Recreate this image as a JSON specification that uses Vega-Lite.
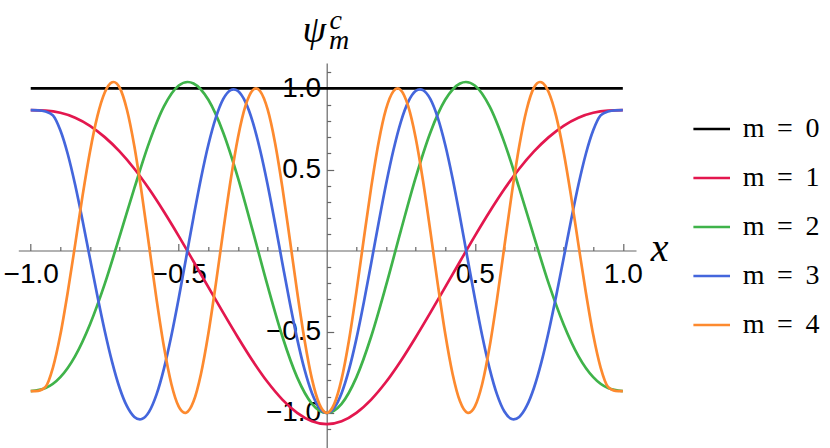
{
  "$schema": "https://vega.github.io/schema/vega-lite/v6.json",
  "width": 617.7,
  "height": 385,
  "autosize": {"type": "none"},
  "padding": {"left": 18.3, "top": 63, "right": 194, "bottom": 0},
  "background": "white",
  "config": {
    "view": {"stroke": null},
    "axis": {"grid": false, "domainColor": "#666666", "tickColor": "#666666", "domainWidth": 1.2, "tickWidth": 1.2, "labelColor": "black", "labelFont": "Liberation Sans", "labelFontSize": 28, "titleColor": "black"},
    "legend": {"labelFont": "Liberation Serif, Times New Roman, serif", "labelFontSize": 28, "labelColor": "black"}
  },
  "data": {"values": [
    {"m": "m \u2009=\u2009 0", "x": -1, "y": 1}, {"m": "m \u2009=\u2009 0", "x": 1, "y": 1},

    {"m": "m \u2009=\u2009 1", "x": -1, "y": 0.866}, {"m": "m \u2009=\u2009 1", "x": -0.95, "y": 0.863}, {"m": "m \u2009=\u2009 1", "x": -0.9, "y": 0.85}, {"m": "m \u2009=\u2009 1", "x": -0.85, "y": 0.82}, {"m": "m \u2009=\u2009 1", "x": -0.8, "y": 0.77}, {"m": "m \u2009=\u2009 1", "x": -0.75, "y": 0.7}, {"m": "m \u2009=\u2009 1", "x": -0.7, "y": 0.612}, {"m": "m \u2009=\u2009 1", "x": -0.65, "y": 0.505}, {"m": "m \u2009=\u2009 1", "x": -0.6, "y": 0.38}, {"m": "m \u2009=\u2009 1", "x": -0.55, "y": 0.24}, {"m": "m \u2009=\u2009 1", "x": -0.5, "y": 0.09}, {"m": "m \u2009=\u2009 1", "x": -0.45, "y": -0.067}, {"m": "m \u2009=\u2009 1", "x": -0.4, "y": -0.225}, {"m": "m \u2009=\u2009 1", "x": -0.35, "y": -0.382}, {"m": "m \u2009=\u2009 1", "x": -0.3, "y": -0.535}, {"m": "m \u2009=\u2009 1", "x": -0.25, "y": -0.68}, {"m": "m \u2009=\u2009 1", "x": -0.2, "y": -0.81}, {"m": "m \u2009=\u2009 1", "x": -0.15, "y": -0.918}, {"m": "m \u2009=\u2009 1", "x": -0.1, "y": -1.0}, {"m": "m \u2009=\u2009 1", "x": -0.05, "y": -1.052}, {"m": "m \u2009=\u2009 1", "x": 0, "y": -1.07}, {"m": "m \u2009=\u2009 1", "x": 0.05, "y": -1.052}, {"m": "m \u2009=\u2009 1", "x": 0.1, "y": -1.0}, {"m": "m \u2009=\u2009 1", "x": 0.15, "y": -0.918}, {"m": "m \u2009=\u2009 1", "x": 0.2, "y": -0.81}, {"m": "m \u2009=\u2009 1", "x": 0.25, "y": -0.68}, {"m": "m \u2009=\u2009 1", "x": 0.3, "y": -0.535}, {"m": "m \u2009=\u2009 1", "x": 0.35, "y": -0.382}, {"m": "m \u2009=\u2009 1", "x": 0.4, "y": -0.225}, {"m": "m \u2009=\u2009 1", "x": 0.45, "y": -0.067}, {"m": "m \u2009=\u2009 1", "x": 0.5, "y": 0.09}, {"m": "m \u2009=\u2009 1", "x": 0.55, "y": 0.24}, {"m": "m \u2009=\u2009 1", "x": 0.6, "y": 0.38}, {"m": "m \u2009=\u2009 1", "x": 0.65, "y": 0.505}, {"m": "m \u2009=\u2009 1", "x": 0.7, "y": 0.612}, {"m": "m \u2009=\u2009 1", "x": 0.75, "y": 0.7}, {"m": "m \u2009=\u2009 1", "x": 0.8, "y": 0.77}, {"m": "m \u2009=\u2009 1", "x": 0.85, "y": 0.82}, {"m": "m \u2009=\u2009 1", "x": 0.9, "y": 0.85}, {"m": "m \u2009=\u2009 1", "x": 0.95, "y": 0.863}, {"m": "m \u2009=\u2009 1", "x": 1, "y": 0.866},

    {"m": "m \u2009=\u2009 2", "x": -1, "y": -0.866}, {"m": "m \u2009=\u2009 2", "x": -0.95, "y": -0.847}, {"m": "m \u2009=\u2009 2", "x": -0.9, "y": -0.78}, {"m": "m \u2009=\u2009 2", "x": -0.85, "y": -0.65}, {"m": "m \u2009=\u2009 2", "x": -0.8, "y": -0.455}, {"m": "m \u2009=\u2009 2", "x": -0.75, "y": -0.205}, {"m": "m \u2009=\u2009 2", "x": -0.7, "y": 0.087}, {"m": "m \u2009=\u2009 2", "x": -0.65, "y": 0.385}, {"m": "m \u2009=\u2009 2", "x": -0.6, "y": 0.666}, {"m": "m \u2009=\u2009 2", "x": -0.55, "y": 0.889}, {"m": "m \u2009=\u2009 2", "x": -0.5, "y": 1.018}, {"m": "m \u2009=\u2009 2", "x": -0.47, "y": 1.04}, {"m": "m \u2009=\u2009 2", "x": -0.45, "y": 1.031}, {"m": "m \u2009=\u2009 2", "x": -0.4, "y": 0.93}, {"m": "m \u2009=\u2009 2", "x": -0.35, "y": 0.729}, {"m": "m \u2009=\u2009 2", "x": -0.3, "y": 0.449}, {"m": "m \u2009=\u2009 2", "x": -0.25, "y": 0.122}, {"m": "m \u2009=\u2009 2", "x": -0.2, "y": -0.216}, {"m": "m \u2009=\u2009 2", "x": -0.15, "y": -0.529}, {"m": "m \u2009=\u2009 2", "x": -0.1, "y": -0.781}, {"m": "m \u2009=\u2009 2", "x": -0.05, "y": -0.944}, {"m": "m \u2009=\u2009 2", "x": 0, "y": -1.0}, {"m": "m \u2009=\u2009 2", "x": 0.05, "y": -0.944}, {"m": "m \u2009=\u2009 2", "x": 0.1, "y": -0.781}, {"m": "m \u2009=\u2009 2", "x": 0.15, "y": -0.529}, {"m": "m \u2009=\u2009 2", "x": 0.2, "y": -0.216}, {"m": "m \u2009=\u2009 2", "x": 0.25, "y": 0.122}, {"m": "m \u2009=\u2009 2", "x": 0.3, "y": 0.449}, {"m": "m \u2009=\u2009 2", "x": 0.35, "y": 0.729}, {"m": "m \u2009=\u2009 2", "x": 0.4, "y": 0.93}, {"m": "m \u2009=\u2009 2", "x": 0.45, "y": 1.031}, {"m": "m \u2009=\u2009 2", "x": 0.47, "y": 1.04}, {"m": "m \u2009=\u2009 2", "x": 0.5, "y": 1.018}, {"m": "m \u2009=\u2009 2", "x": 0.55, "y": 0.889}, {"m": "m \u2009=\u2009 2", "x": 0.6, "y": 0.666}, {"m": "m \u2009=\u2009 2", "x": 0.65, "y": 0.385}, {"m": "m \u2009=\u2009 2", "x": 0.7, "y": 0.087}, {"m": "m \u2009=\u2009 2", "x": 0.75, "y": -0.205}, {"m": "m \u2009=\u2009 2", "x": 0.8, "y": -0.455}, {"m": "m \u2009=\u2009 2", "x": 0.85, "y": -0.65}, {"m": "m \u2009=\u2009 2", "x": 0.9, "y": -0.78}, {"m": "m \u2009=\u2009 2", "x": 0.95, "y": -0.847}, {"m": "m \u2009=\u2009 2", "x": 1, "y": -0.866},

    {"m": "m \u2009=\u2009 3", "x": -1, "y": 0.866}, {"m": "m \u2009=\u2009 3", "x": -0.975, "y": 0.865}, {"m": "m \u2009=\u2009 3", "x": -0.95, "y": 0.858}, {"m": "m \u2009=\u2009 3", "x": -0.925, "y": 0.834}, {"m": "m \u2009=\u2009 3", "x": -0.9, "y": 0.742}, {"m": "m \u2009=\u2009 3", "x": -0.875, "y": 0.596}, {"m": "m \u2009=\u2009 3", "x": -0.85, "y": 0.406}, {"m": "m \u2009=\u2009 3", "x": -0.825, "y": 0.186}, {"m": "m \u2009=\u2009 3", "x": -0.8, "y": -0.047}, {"m": "m \u2009=\u2009 3", "x": -0.775, "y": -0.278}, {"m": "m \u2009=\u2009 3", "x": -0.75, "y": -0.495}, {"m": "m \u2009=\u2009 3", "x": -0.725, "y": -0.687}, {"m": "m \u2009=\u2009 3", "x": -0.7, "y": -0.845}, {"m": "m \u2009=\u2009 3", "x": -0.675, "y": -0.959}, {"m": "m \u2009=\u2009 3", "x": -0.65, "y": -1.025}, {"m": "m \u2009=\u2009 3", "x": -0.631, "y": -1.04}, {"m": "m \u2009=\u2009 3", "x": -0.625, "y": -1.038}, {"m": "m \u2009=\u2009 3", "x": -0.6, "y": -0.992}, {"m": "m \u2009=\u2009 3", "x": -0.575, "y": -0.886}, {"m": "m \u2009=\u2009 3", "x": -0.55, "y": -0.727}, {"m": "m \u2009=\u2009 3", "x": -0.525, "y": -0.525}, {"m": "m \u2009=\u2009 3", "x": -0.5, "y": -0.292}, {"m": "m \u2009=\u2009 3", "x": -0.475, "y": -0.043}, {"m": "m \u2009=\u2009 3", "x": -0.45, "y": 0.208}, {"m": "m \u2009=\u2009 3", "x": -0.425, "y": 0.445}, {"m": "m \u2009=\u2009 3", "x": -0.4, "y": 0.653}, {"m": "m \u2009=\u2009 3", "x": -0.375, "y": 0.819}, {"m": "m \u2009=\u2009 3", "x": -0.35, "y": 0.934}, {"m": "m \u2009=\u2009 3", "x": -0.325, "y": 0.99}, {"m": "m \u2009=\u2009 3", "x": -0.315, "y": 0.995}, {"m": "m \u2009=\u2009 3", "x": -0.3, "y": 0.984}, {"m": "m \u2009=\u2009 3", "x": -0.275, "y": 0.917}, {"m": "m \u2009=\u2009 3", "x": -0.25, "y": 0.793}, {"m": "m \u2009=\u2009 3", "x": -0.225, "y": 0.619}, {"m": "m \u2009=\u2009 3", "x": -0.2, "y": 0.408}, {"m": "m \u2009=\u2009 3", "x": -0.175, "y": 0.171}, {"m": "m \u2009=\u2009 3", "x": -0.15, "y": -0.077}, {"m": "m \u2009=\u2009 3", "x": -0.125, "y": -0.32}, {"m": "m \u2009=\u2009 3", "x": -0.1, "y": -0.544}, {"m": "m \u2009=\u2009 3", "x": -0.075, "y": -0.734}, {"m": "m \u2009=\u2009 3", "x": -0.05, "y": -0.879}, {"m": "m \u2009=\u2009 3", "x": -0.025, "y": -0.969}, {"m": "m \u2009=\u2009 3", "x": 0, "y": -1.0}, {"m": "m \u2009=\u2009 3", "x": 0.025, "y": -0.969}, {"m": "m \u2009=\u2009 3", "x": 0.05, "y": -0.879}, {"m": "m \u2009=\u2009 3", "x": 0.075, "y": -0.734}, {"m": "m \u2009=\u2009 3", "x": 0.1, "y": -0.544}, {"m": "m \u2009=\u2009 3", "x": 0.125, "y": -0.32}, {"m": "m \u2009=\u2009 3", "x": 0.15, "y": -0.077}, {"m": "m \u2009=\u2009 3", "x": 0.175, "y": 0.171}, {"m": "m \u2009=\u2009 3", "x": 0.2, "y": 0.408}, {"m": "m \u2009=\u2009 3", "x": 0.225, "y": 0.619}, {"m": "m \u2009=\u2009 3", "x": 0.25, "y": 0.793}, {"m": "m \u2009=\u2009 3", "x": 0.275, "y": 0.917}, {"m": "m \u2009=\u2009 3", "x": 0.3, "y": 0.984}, {"m": "m \u2009=\u2009 3", "x": 0.315, "y": 0.995}, {"m": "m \u2009=\u2009 3", "x": 0.325, "y": 0.99}, {"m": "m \u2009=\u2009 3", "x": 0.35, "y": 0.934}, {"m": "m \u2009=\u2009 3", "x": 0.375, "y": 0.819}, {"m": "m \u2009=\u2009 3", "x": 0.4, "y": 0.653}, {"m": "m \u2009=\u2009 3", "x": 0.425, "y": 0.445}, {"m": "m \u2009=\u2009 3", "x": 0.45, "y": 0.208}, {"m": "m \u2009=\u2009 3", "x": 0.475, "y": -0.043}, {"m": "m \u2009=\u2009 3", "x": 0.5, "y": -0.292}, {"m": "m \u2009=\u2009 3", "x": 0.525, "y": -0.525}, {"m": "m \u2009=\u2009 3", "x": 0.55, "y": -0.727}, {"m": "m \u2009=\u2009 3", "x": 0.575, "y": -0.886}, {"m": "m \u2009=\u2009 3", "x": 0.6, "y": -0.992}, {"m": "m \u2009=\u2009 3", "x": 0.625, "y": -1.038}, {"m": "m \u2009=\u2009 3", "x": 0.631, "y": -1.04}, {"m": "m \u2009=\u2009 3", "x": 0.65, "y": -1.025}, {"m": "m \u2009=\u2009 3", "x": 0.675, "y": -0.959}, {"m": "m \u2009=\u2009 3", "x": 0.7, "y": -0.845}, {"m": "m \u2009=\u2009 3", "x": 0.725, "y": -0.687}, {"m": "m \u2009=\u2009 3", "x": 0.75, "y": -0.495}, {"m": "m \u2009=\u2009 3", "x": 0.775, "y": -0.278}, {"m": "m \u2009=\u2009 3", "x": 0.8, "y": -0.047}, {"m": "m \u2009=\u2009 3", "x": 0.825, "y": 0.186}, {"m": "m \u2009=\u2009 3", "x": 0.85, "y": 0.406}, {"m": "m \u2009=\u2009 3", "x": 0.875, "y": 0.596}, {"m": "m \u2009=\u2009 3", "x": 0.9, "y": 0.742}, {"m": "m \u2009=\u2009 3", "x": 0.925, "y": 0.834}, {"m": "m \u2009=\u2009 3", "x": 0.95, "y": 0.858}, {"m": "m \u2009=\u2009 3", "x": 0.975, "y": 0.865}, {"m": "m \u2009=\u2009 3", "x": 1, "y": 0.866},

    {"m": "m \u2009=\u2009 4", "x": -1, "y": -0.866}, {"m": "m \u2009=\u2009 4", "x": -0.975, "y": -0.864}, {"m": "m \u2009=\u2009 4", "x": -0.95, "y": -0.84}, {"m": "m \u2009=\u2009 4", "x": -0.925, "y": -0.721}, {"m": "m \u2009=\u2009 4", "x": -0.9, "y": -0.519}, {"m": "m \u2009=\u2009 4", "x": -0.875, "y": -0.256}, {"m": "m \u2009=\u2009 4", "x": -0.85, "y": 0.037}, {"m": "m \u2009=\u2009 4", "x": -0.825, "y": 0.338}, {"m": "m \u2009=\u2009 4", "x": -0.8, "y": 0.609}, {"m": "m \u2009=\u2009 4", "x": -0.775, "y": 0.828}, {"m": "m \u2009=\u2009 4", "x": -0.75, "y": 0.975}, {"m": "m \u2009=\u2009 4", "x": -0.725, "y": 1.038}, {"m": "m \u2009=\u2009 4", "x": -0.72, "y": 1.04}, {"m": "m \u2009=\u2009 4", "x": -0.7, "y": 1.006}, {"m": "m \u2009=\u2009 4", "x": -0.675, "y": 0.869}, {"m": "m \u2009=\u2009 4", "x": -0.65, "y": 0.644}, {"m": "m \u2009=\u2009 4", "x": -0.625, "y": 0.353}, {"m": "m \u2009=\u2009 4", "x": -0.6, "y": 0.027}, {"m": "m \u2009=\u2009 4", "x": -0.575, "y": -0.3}, {"m": "m \u2009=\u2009 4", "x": -0.55, "y": -0.593}, {"m": "m \u2009=\u2009 4", "x": -0.525, "y": -0.822}, {"m": "m \u2009=\u2009 4", "x": -0.5, "y": -0.962}, {"m": "m \u2009=\u2009 4", "x": -0.479, "y": -1.0}, {"m": "m \u2009=\u2009 4", "x": -0.475, "y": -0.999}, {"m": "m \u2009=\u2009 4", "x": -0.45, "y": -0.929}, {"m": "m \u2009=\u2009 4", "x": -0.425, "y": -0.76}, {"m": "m \u2009=\u2009 4", "x": -0.4, "y": -0.511}, {"m": "m \u2009=\u2009 4", "x": -0.375, "y": -0.208}, {"m": "m \u2009=\u2009 4", "x": -0.35, "y": 0.118}, {"m": "m \u2009=\u2009 4", "x": -0.325, "y": 0.431}, {"m": "m \u2009=\u2009 4", "x": -0.3, "y": 0.698}, {"m": "m \u2009=\u2009 4", "x": -0.275, "y": 0.891}, {"m": "m \u2009=\u2009 4", "x": -0.25, "y": 0.99}, {"m": "m \u2009=\u2009 4", "x": -0.239, "y": 1.0}, {"m": "m \u2009=\u2009 4", "x": -0.225, "y": 0.983}, {"m": "m \u2009=\u2009 4", "x": -0.2, "y": 0.872}, {"m": "m \u2009=\u2009 4", "x": -0.175, "y": 0.667}, {"m": "m \u2009=\u2009 4", "x": -0.15, "y": 0.39}, {"m": "m \u2009=\u2009 4", "x": -0.125, "y": 0.072}, {"m": "m \u2009=\u2009 4", "x": -0.1, "y": -0.254}, {"m": "m \u2009=\u2009 4", "x": -0.075, "y": -0.552}, {"m": "m \u2009=\u2009 4", "x": -0.05, "y": -0.792}, {"m": "m \u2009=\u2009 4", "x": -0.025, "y": -0.946}, {"m": "m \u2009=\u2009 4", "x": 0, "y": -1.0}, {"m": "m \u2009=\u2009 4", "x": 0.025, "y": -0.946}, {"m": "m \u2009=\u2009 4", "x": 0.05, "y": -0.792}, {"m": "m \u2009=\u2009 4", "x": 0.075, "y": -0.552}, {"m": "m \u2009=\u2009 4", "x": 0.1, "y": -0.254}, {"m": "m \u2009=\u2009 4", "x": 0.125, "y": 0.072}, {"m": "m \u2009=\u2009 4", "x": 0.15, "y": 0.39}, {"m": "m \u2009=\u2009 4", "x": 0.175, "y": 0.667}, {"m": "m \u2009=\u2009 4", "x": 0.2, "y": 0.872}, {"m": "m \u2009=\u2009 4", "x": 0.225, "y": 0.983}, {"m": "m \u2009=\u2009 4", "x": 0.239, "y": 1.0}, {"m": "m \u2009=\u2009 4", "x": 0.25, "y": 0.99}, {"m": "m \u2009=\u2009 4", "x": 0.275, "y": 0.891}, {"m": "m \u2009=\u2009 4", "x": 0.3, "y": 0.698}, {"m": "m \u2009=\u2009 4", "x": 0.325, "y": 0.431}, {"m": "m \u2009=\u2009 4", "x": 0.35, "y": 0.118}, {"m": "m \u2009=\u2009 4", "x": 0.375, "y": -0.208}, {"m": "m \u2009=\u2009 4", "x": 0.4, "y": -0.511}, {"m": "m \u2009=\u2009 4", "x": 0.425, "y": -0.76}, {"m": "m \u2009=\u2009 4", "x": 0.45, "y": -0.929}, {"m": "m \u2009=\u2009 4", "x": 0.475, "y": -0.999}, {"m": "m \u2009=\u2009 4", "x": 0.479, "y": -1.0}, {"m": "m \u2009=\u2009 4", "x": 0.5, "y": -0.962}, {"m": "m \u2009=\u2009 4", "x": 0.525, "y": -0.822}, {"m": "m \u2009=\u2009 4", "x": 0.55, "y": -0.593}, {"m": "m \u2009=\u2009 4", "x": 0.575, "y": -0.3}, {"m": "m \u2009=\u2009 4", "x": 0.6, "y": 0.027}, {"m": "m \u2009=\u2009 4", "x": 0.625, "y": 0.353}, {"m": "m \u2009=\u2009 4", "x": 0.65, "y": 0.644}, {"m": "m \u2009=\u2009 4", "x": 0.675, "y": 0.869}, {"m": "m \u2009=\u2009 4", "x": 0.7, "y": 1.006}, {"m": "m \u2009=\u2009 4", "x": 0.72, "y": 1.04}, {"m": "m \u2009=\u2009 4", "x": 0.725, "y": 1.038}, {"m": "m \u2009=\u2009 4", "x": 0.75, "y": 0.975}, {"m": "m \u2009=\u2009 4", "x": 0.775, "y": 0.828}, {"m": "m \u2009=\u2009 4", "x": 0.8, "y": 0.609}, {"m": "m \u2009=\u2009 4", "x": 0.825, "y": 0.338}, {"m": "m \u2009=\u2009 4", "x": 0.85, "y": 0.037}, {"m": "m \u2009=\u2009 4", "x": 0.875, "y": -0.256}, {"m": "m \u2009=\u2009 4", "x": 0.9, "y": -0.519}, {"m": "m \u2009=\u2009 4", "x": 0.925, "y": -0.721}, {"m": "m \u2009=\u2009 4", "x": 0.95, "y": -0.84}, {"m": "m \u2009=\u2009 4", "x": 0.975, "y": -0.864}, {"m": "m \u2009=\u2009 4", "x": 1, "y": -0.866}
  ]},
  "layer": [
    {
      "transform": [{"filter": "datum.m === 'm \u2009=\u2009 0'"}],
      "mark": {"type": "line", "strokeOpacity": 0},
      "encoding": {
        "x": {"field": "x", "type": "quantitative", "scale": {"domain": [-1.042, 1.0445], "nice": false, "zero": false},
          "axis": {"orient": "top", "offset": -187.5, "values": [-1, -0.5, 0.5, 1], "tickSize": 7, "labels": false, "domain": true, "title": null}},
        "y": {"field": "y", "type": "quantitative", "scale": {"domain": [-1.2166, 1.157], "nice": false, "zero": false},
          "axis": {"orient": "right", "offset": -309.3, "values": [-1, -0.5, 0.5, 1], "tickSize": 7, "labels": false, "domain": true,
            "title": "c", "titleAngle": 0, "titleX": 8.5, "titleY": -35, "titleAlign": "center", "titleBaseline": "alphabetic",
            "titleFont": "Liberation Serif", "titleFontStyle": "italic", "titleFontWeight": "normal", "titleFontSize": 28}}
      }
    },
    {
      "transform": [{"filter": "datum.m === 'm \u2009=\u2009 0'"}],
      "mark": {"type": "line", "strokeOpacity": 0},
      "encoding": {
        "x": {"field": "x", "type": "quantitative", "scale": {"domain": [-1.042, 1.0445], "nice": false, "zero": false},
          "axis": {"orient": "top", "offset": -187.5, "values": [-0.9, -0.8, -0.7, -0.6, -0.4, -0.3, -0.2, -0.1, 0.1, 0.2, 0.3, 0.4, 0.6, 0.7, 0.8, 0.9], "tickSize": 4, "labels": false, "domain": false, "title": null}},
        "y": {"field": "y", "type": "quantitative", "scale": {"domain": [-1.2166, 1.157], "nice": false, "zero": false},
          "axis": {"orient": "right", "offset": -309.3, "values": [-1.1, -0.9, -0.8, -0.7, -0.6, -0.4, -0.3, -0.2, -0.1, 0.1, 0.2, 0.3, 0.4, 0.6, 0.7, 0.8, 0.9, 1.1], "tickSize": 4, "labels": false, "domain": false,
            "title": "m", "titleAngle": 0, "titleX": 12, "titleY": -14.7, "titleAlign": "center", "titleBaseline": "alphabetic",
            "titleFont": "Liberation Serif", "titleFontStyle": "italic", "titleFontWeight": "normal", "titleFontSize": 28}}
      }
    },
    {
      "mark": {"type": "line", "strokeWidth": 2.7, "interpolate": "monotone"},
      "encoding": {
        "x": {"field": "x", "type": "quantitative", "scale": {"domain": [-1.042, 1.0445], "nice": false, "zero": false},
          "axis": {"orient": "bottom", "offset": -197.5, "values": [-1, -0.5, 0.5, 1], "format": ".1f", "ticks": false, "domain": false, "labelPadding": 10,
            "title": "x", "titleX": 640.7, "titleY": 9.5, "titleAlign": "center", "titleBaseline": "alphabetic",
            "titleFont": "Liberation Serif", "titleFontStyle": "italic", "titleFontWeight": "normal", "titleFontSize": 40}},
        "y": {"field": "y", "type": "quantitative", "scale": {"domain": [-1.2166, 1.157], "nice": false, "zero": false},
          "axis": {"orient": "left", "offset": -308.4, "values": [-1, -0.5, 0.5, 1], "format": ".1f", "ticks": false, "domain": false, "labelPadding": 6,
            "title": "ψ", "titleAngle": 0, "titleX": -13, "titleY": -22, "titleAlign": "center", "titleBaseline": "alphabetic",
            "titleFont": "Liberation Serif", "titleFontStyle": "italic", "titleFontWeight": "normal", "titleFontSize": 38}},
        "color": {"field": "m", "type": "nominal",
          "scale": {"domain": ["m \u2009=\u2009 0", "m \u2009=\u2009 1", "m \u2009=\u2009 2", "m \u2009=\u2009 3", "m \u2009=\u2009 4"], "range": ["#000000", "#e3174e", "#3fb34a", "#4466dc", "#fd8a2f"]},
          "legend": {"orient": "none", "legendX": 673.4, "legendY": 46, "title": null, "padding": 0, "symbolType": "stroke", "symbolSize": 1340, "symbolStrokeWidth": 2.7,
            "labelFont": "Liberation Serif, Times New Roman, serif", "labelFontSize": 28, "labelFontStyle": "normal", "labelColor": "black", "labelOffset": 11, "rowPadding": 15, "labelLimit": 300}}
      }
    }
  ],
  "resolve": {"axis": {"x": "independent", "y": "independent"}}
}
